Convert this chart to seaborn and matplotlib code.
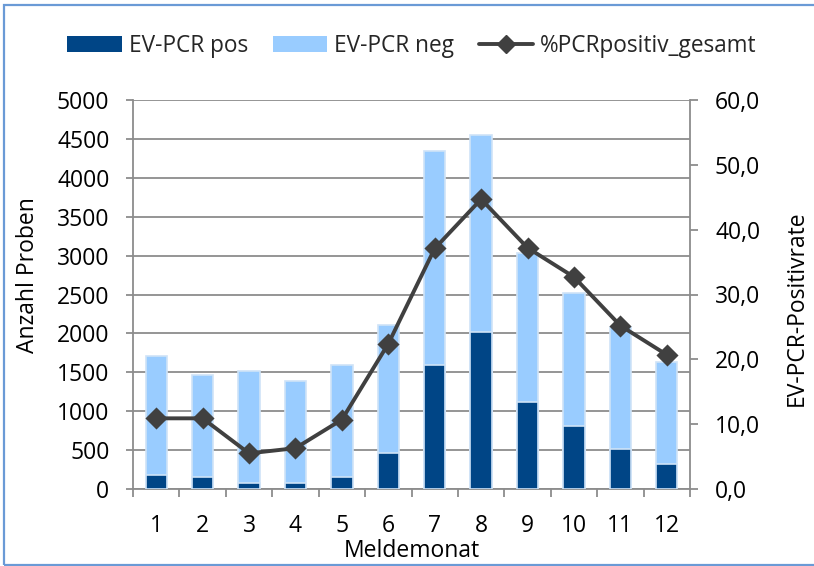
import matplotlib
matplotlib.use("Agg")
import matplotlib.pyplot as plt
import seaborn as sns
import numpy as np
import pandas as pd
from matplotlib.patches import Patch, Rectangle
from matplotlib.lines import Line2D
from matplotlib.ticker import FuncFormatter

months = ["1", "2", "3", "4", "5", "6", "7", "8", "9", "10", "11", "12"]
pcr_pos = [180, 150, 73, 81, 159, 468, 1598, 2019, 1117, 816, 515, 322]
pcr_total = [1705, 1469, 1512, 1383, 1589, 2113, 4347, 4553, 3037, 2513, 2084, 1628]
pct_pos = [10.9, 10.9, 5.5, 6.3, 10.7, 22.4, 37.1, 44.7, 37.2, 32.7, 25.2, 20.7]

dark = "#004586"
light = "#99ccff"
linec = "#404040"
grid = "#8c8c8c"
FS = 16.5

sns.set_theme(style="white")
plt.rcParams["font.family"] = ["Open Sans", "DejaVu Sans"]

fig = plt.figure(figsize=(8.14, 5.66), dpi=100)
L, R, T, B = 133, 690, 100, 489
ax = fig.add_axes([L / 814, 1 - B / 566, (R - L) / 814, (B - T) / 566])

df = pd.DataFrame({"Monat": months, "pos": pcr_pos, "total": pcr_total, "pct": pct_pos})

sns.barplot(data=df, x="Monat", y="total", color=light, ax=ax, width=0.46,
            saturation=1, edgecolor="#cfe3f7", linewidth=1.2, zorder=2)
sns.barplot(data=df, x="Monat", y="pos", color=dark, ax=ax, width=0.46,
            saturation=1, edgecolor="#cfe3f7", linewidth=1.2, zorder=3)

ax.set_ylim(0, 5000)
ax.set_yticks(np.arange(0, 5001, 500))
ax.set_xlim(-0.5, 11.5)
ax.yaxis.grid(True, color=grid, linewidth=1.3, zorder=0)
ax.set_axisbelow(True)
for s in ["left", "bottom"]:
    ax.spines[s].set_color(grid)
    ax.spines[s].set_linewidth(1.3)
ax.spines["top"].set_visible(False)
ax.spines["right"].set_visible(False)

ax.tick_params(axis="y", which="both", left=True, length=5, width=1.3, color=grid,
               labelsize=FS, pad=12, labelcolor="black")
ax.set_xticks(np.arange(12))
ax.set_xticklabels(months)
ax.set_xticks(np.arange(-0.5, 12, 1), minor=True)
ax.tick_params(axis="x", which="major", bottom=False, labelsize=FS, pad=12, labelcolor="black")
ax.tick_params(axis="x", which="minor", bottom=True, length=6, width=1.3, color=grid)
ax.set_xlabel("Meldemonat", fontsize=FS, color="black")
ax.xaxis.label.set_va("center")
ax.xaxis.set_label_coords(0.5, (B - 551) / (B - T))
ax.set_ylabel("Anzahl Proben", fontsize=FS, color="black")
ax.yaxis.label.set_va("center")
ax.yaxis.set_label_coords((28 - L) / (R - L), (B - 275) / (B - T))

ax2 = ax.twinx()
sns.pointplot(data=df, x="Monat", y="pct", ax=ax2, color=linec, markers="D",
              markersize=9.5, linewidth=2.8, zorder=5)
ax2.set_xlim(-0.5, 11.5)
ax2.set_ylim(0, 60)
ax2.set_yticks(np.arange(0, 61, 10))
ax2.yaxis.set_major_formatter(FuncFormatter(lambda v, p: f"{v:.1f}".replace(".", ",")))
for s in ["left", "top", "bottom"]:
    ax2.spines[s].set_visible(False)
ax2.spines["right"].set_color(grid)
ax2.spines["right"].set_linewidth(1.3)
ax2.tick_params(axis="y", right=True, length=6, width=1.3, color=grid,
                labelsize=FS, pad=12, labelcolor="black")
ax2.set_ylabel("EV-PCR-Positivrate", fontsize=FS, color="black")
ax2.yaxis.label.set_va("center")
ax2.yaxis.set_label_coords((797 - L) / (R - L), (B - 308) / (B - T))
ax2.grid(False)

handles = [Patch(facecolor=dark, edgecolor="none"),
           Patch(facecolor=light, edgecolor="none"),
           Line2D([], [], color=linec, marker="D", markersize=9.5, linewidth=2.8)]
labels = ["EV-PCR pos", "EV-PCR neg", "%PCRpositiv_gesamt"]
fig.legend(handles, labels, loc="center", bbox_to_anchor=(412 / 814, 1 - 46 / 566), ncol=3,
           frameon=False, fontsize=16.3, handlelength=2.4, handleheight=0.72,
           handletextpad=0.3, columnspacing=1.1, borderpad=0, borderaxespad=0)

fig.patches.append(Rectangle((4 / 814, 1 / 566), 830 / 814, 560 / 566, transform=fig.transFigure,
                             fill=False, edgecolor="#6a9ad6", linewidth=1.6))

fig.savefig("out.png", dpi=100)
